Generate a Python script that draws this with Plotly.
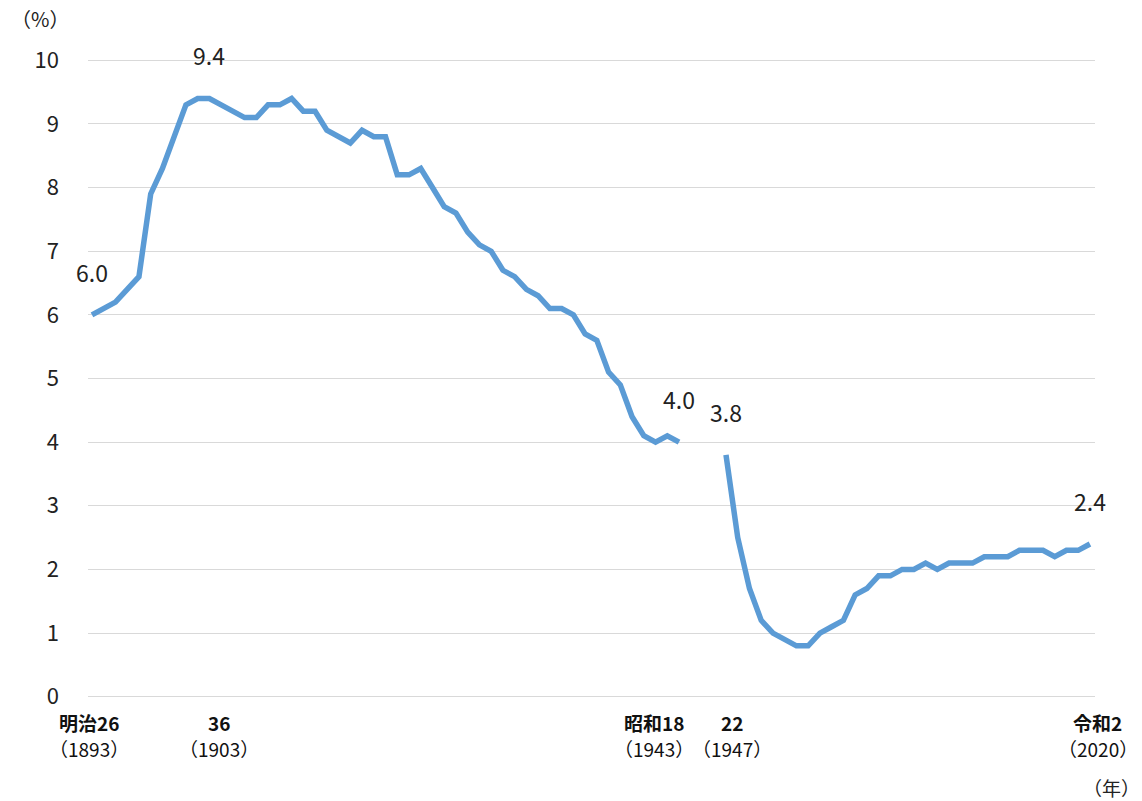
import plotly.graph_objects as go

# ---- data ----
years_prewar = [1893, 1894, 1895, 1896, 1897, 1898, 1899, 1900, 1901, 1902,
                1903, 1904, 1905, 1906, 1907, 1908, 1909, 1910, 1911, 1912,
                1913, 1914, 1915, 1916, 1917, 1918, 1919, 1920, 1921, 1922,
                1923, 1924, 1925, 1926, 1927, 1928, 1929, 1930, 1931, 1932,
                1933, 1934, 1935, 1936, 1937, 1938, 1939, 1940, 1941, 1942,
                1943]
values_prewar = [6.0, 6.1, 6.2, 6.4, 6.6, 7.9, 8.3, 8.8, 9.3, 9.4,
                 9.4, 9.3, 9.2, 9.1, 9.1, 9.3, 9.3, 9.4, 9.2, 9.2,
                 8.9, 8.8, 8.7, 8.9, 8.8, 8.8, 8.2, 8.2, 8.3, 8.0,
                 7.7, 7.6, 7.3, 7.1, 7.0, 6.7, 6.6, 6.4, 6.3, 6.1,
                 6.1, 6.0, 5.7, 5.6, 5.1, 4.9, 4.4, 4.1, 4.0, 4.1,
                 4.0]
years_gap = [1944, 1945, 1946]
years_postwar = [1947, 1950, 1955, 1960, 1965, 1970, 1975, 1980, 1985, 1990,
                 1995, 2000, 2001, 2002, 2003, 2004, 2005, 2006, 2007, 2008,
                 2009, 2010, 2011, 2012, 2013, 2014, 2015, 2016, 2017, 2018,
                 2019, 2020]
values_postwar = [3.8, 2.5, 1.7, 1.2, 1.0, 0.9, 0.8, 0.8, 1.0, 1.1,
                  1.2, 1.6, 1.7, 1.9, 1.9, 2.0, 2.0, 2.1, 2.0, 2.1,
                  2.1, 2.1, 2.2, 2.2, 2.2, 2.3, 2.3, 2.3, 2.2, 2.3,
                  2.3, 2.4]

tick_years = [1893, 1903, 1943, 1947, 2020]
tick_era = ["明治26", "36", "昭和18", "22", "令和2"]
tick_west = ["（1893）", "（1903）", "（1943）", "（1947）", "（2020）"]
tick_shift = [-3, 10, -25, 6, 8]

label_years = [1893, 1903, 1943, 1947, 2020]

y_ticks = [0, 1, 2, 3, 4, 5, 6, 7, 8, 9, 10]

# ---- build ----
all_years = years_prewar + years_gap + years_postwar
cats = [str(y) for y in all_years]
vals = values_prewar + [None] * len(years_gap) + values_postwar
idx_of = {y: i for i, y in enumerate(all_years)}

FONT = "Noto Sans CJK JP, Noto Sans, sans-serif"
LINE_COLOR = "#5B9BD5"

fig = go.Figure()
fig.add_trace(go.Scatter(
    x=cats, y=vals, mode="lines",
    line=dict(color=LINE_COLOR, width=5.5),
    connectgaps=False, hoverinfo="x+y", showlegend=False,
))

ann = []
# data labels
for yr in label_years:
    i = idx_of[yr]
    ann.append(dict(x=i, y=vals[i], xref="x", yref="y",
                    text=f"{vals[i]:.1f}", showarrow=False,
                    yshift=43, font=dict(size=23, color="#222", family=FONT)))
# x category labels
for yr, era, west, sh in zip(tick_years, tick_era, tick_west, tick_shift):
    i = idx_of[yr]
    ann.append(dict(x=i, y=0, xref="x", yref="paper",
                    text=f"<b>{era}</b>", showarrow=False, xshift=sh,
                    yshift=-24, yanchor="middle",
                    font=dict(size=19, color="#111", family=FONT)))
    ann.append(dict(x=i, y=0, xref="x", yref="paper",
                    text=west, showarrow=False, xshift=sh,
                    yshift=-50, yanchor="middle",
                    font=dict(size=19, color="#111", family=FONT)))
# unit labels
ann.append(dict(x=0, y=1, xref="paper", yref="paper", text="（%）",
                showarrow=False, xanchor="center", yanchor="middle",
                xshift=-48, yshift=41,
                font=dict(size=20, color="#222", family=FONT)))
ann.append(dict(x=1, y=0, xref="paper", yref="paper", text="（年）",
                showarrow=False, xanchor="center", yanchor="middle",
                xshift=16, yshift=-89,
                font=dict(size=19, color="#222", family=FONT)))

fig.update_layout(
    width=1142, height=801,
    margin=dict(l=88, r=47, t=59, b=103),
    paper_bgcolor="white", plot_bgcolor="white",
    font=dict(family=FONT, color="#222"),
    annotations=ann,
    xaxis=dict(type="category", categoryorder="array", categoryarray=cats,
               range=[-0.34, len(cats) - 1 + 0.43],
               showticklabels=False, showgrid=False, zeroline=False,
               showline=False, ticks=""),
    yaxis=dict(range=[-0.02, 10.02], tickvals=y_ticks, showgrid=True,
               gridcolor="#D9D9D9", gridwidth=1.3, zeroline=False,
               showline=False, ticks="", ticklabelstandoff=28,
               tickfont=dict(size=22, color="#222", family=FONT)),
)

fig.write_html("out.html",
               config={"displayModeBar": False},
               post_script="document.body.style.margin='0px';"
                           "document.body.style.overflow='hidden';")
